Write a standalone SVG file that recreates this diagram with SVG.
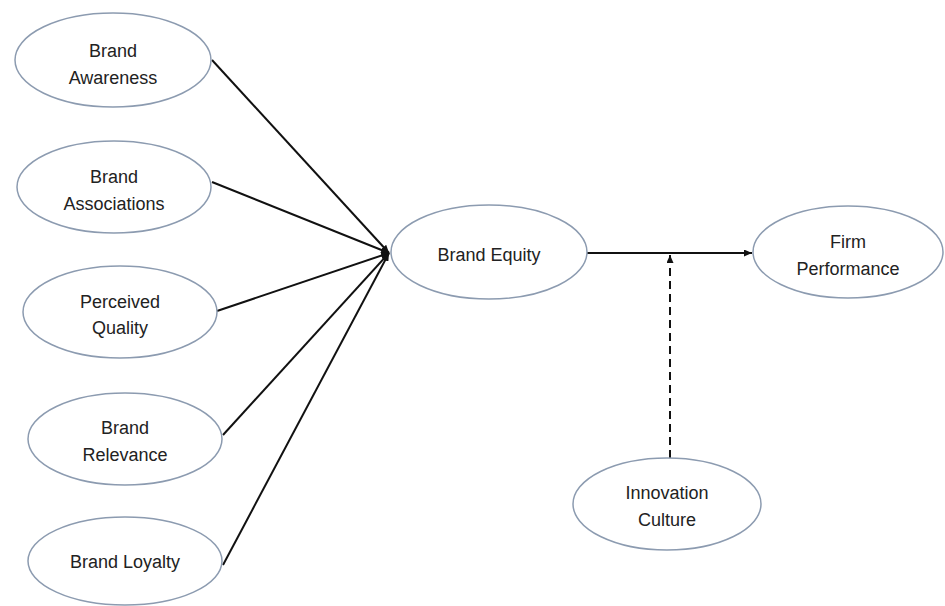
<svg xmlns="http://www.w3.org/2000/svg" width="945" height="606" viewBox="0 0 945 606">
<style>
.node ellipse{fill:#ffffff;stroke:#8c9bb0;stroke-width:1.5}
.node text{font-family:"Liberation Sans",Arial,sans-serif;font-size:18px;fill:#222222;text-anchor:middle}
.edge{stroke:#111111;stroke-width:2;fill:none}
.dash{stroke:#111111;stroke-width:2;fill:none;stroke-dasharray:8,5}
</style>
<defs>
<marker id="ah" viewBox="0 0 10 10" refX="10" refY="5" markerWidth="8" markerHeight="7" markerUnits="userSpaceOnUse" orient="auto" preserveAspectRatio="none">
<path d="M0,0 L10,5 L0,10 z" fill="#111111"/>
</marker>
</defs>
<rect width="945" height="606" fill="#ffffff"/>
<g id="connectors">
<line class="edge" x1="212" y1="60" x2="389" y2="253" marker-end="url(#ah)"/>
<line class="edge" x1="212" y1="182" x2="389" y2="253" marker-end="url(#ah)"/>
<line class="edge" x1="217" y1="311" x2="389" y2="253" marker-end="url(#ah)"/>
<line class="edge" x1="223" y1="435" x2="389" y2="253" marker-end="url(#ah)"/>
<line class="edge" x1="223" y1="565" x2="389" y2="253" marker-end="url(#ah)"/>
<line class="edge" x1="587" y1="253" x2="752" y2="253" marker-end="url(#ah)"/>
<line class="dash" x1="670" y1="458" x2="670" y2="255" marker-end="url(#ah)"/>
</g>
<g id="brand-awareness" class="node">
<ellipse cx="113" cy="60" rx="98" ry="47"/>
<text x="113" y="57">Brand</text>
<text x="113" y="84">Awareness</text>
</g>
<g id="brand-associations" class="node">
<ellipse cx="114" cy="187" rx="97" ry="46"/>
<text x="114" y="183">Brand</text>
<text x="114" y="210">Associations</text>
</g>
<g id="perceived-quality" class="node">
<ellipse cx="120" cy="312" rx="97" ry="46"/>
<text x="120" y="308">Perceived</text>
<text x="120" y="334">Quality</text>
</g>
<g id="brand-relevance" class="node">
<ellipse cx="125" cy="439" rx="97" ry="46"/>
<text x="125" y="434">Brand</text>
<text x="125" y="461">Relevance</text>
</g>
<g id="brand-loyalty" class="node">
<ellipse cx="125" cy="561" rx="97" ry="44"/>
<text x="125" y="568">Brand Loyalty</text>
</g>
<g id="brand-equity" class="node">
<ellipse cx="489" cy="252" rx="98" ry="47"/>
<text x="489" y="261">Brand Equity</text>
</g>
<g id="firm-performance" class="node">
<ellipse cx="848" cy="252" rx="95" ry="46"/>
<text x="848" y="248">Firm</text>
<text x="848" y="275">Performance</text>
</g>
<g id="innovation-culture" class="node">
<ellipse cx="667" cy="504" rx="94" ry="46"/>
<text x="667" y="499">Innovation</text>
<text x="667" y="526">Culture</text>
</g>
</svg>
